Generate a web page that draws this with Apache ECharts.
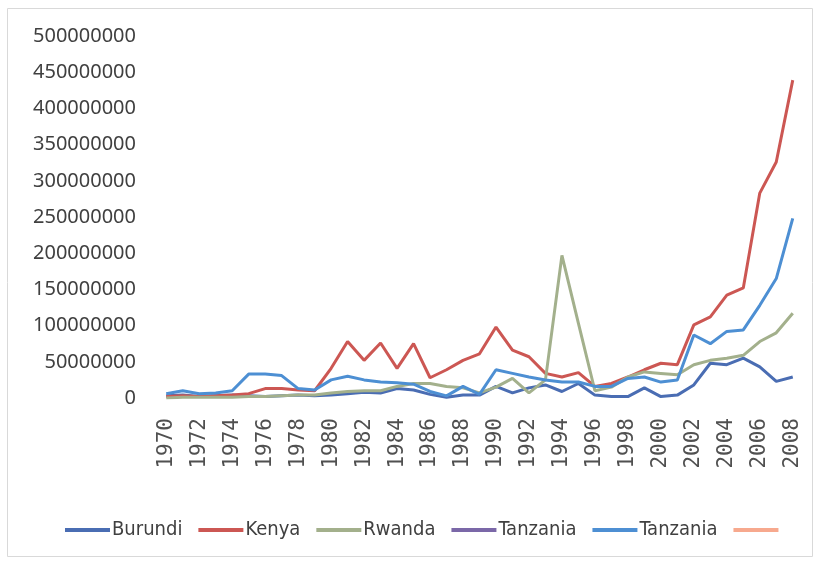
<!DOCTYPE html>
<html>
<head>
<meta charset="utf-8">
<script src="https://cdn.jsdelivr.net/npm/echarts@6/dist/echarts.min.js"></script>
<style>
html,body{margin:0;padding:0;background:#fff;}
#chart{width:823px;height:564px;}
</style>
</head>
<body>
<div id="chart"></div>
<script>
const years = [];
for (let y = 1970; y <= 2008; y++) years.push(String(y));

const burundi = [3e6,4e6,2e6,3e6,4e6,3e6,2e6,3e6,4e6,3e6,4e6,6e6,8e6,7e6,13e6,11e6,5e6,1e6,4e6,4e6,16e6,7e6,14e6,18e6,9e6,20e6,4e6,2e6,2e6,14e6,2e6,4e6,18e6,48e6,46e6,55e6,43e6,23e6,29e6];
const kenya = [2e6,3e6,2e6,3e6,4e6,6e6,13e6,13e6,11e6,10e6,41e6,78e6,52e6,76e6,41e6,75e6,28e6,39e6,52e6,61e6,98e6,66e6,57e6,34e6,29e6,35e6,16e6,20e6,29e6,39e6,48e6,46e6,101e6,112e6,142e6,152e6,283e6,326e6,439e6];
const rwanda = [0,1e6,1e6,1e6,1e6,2e6,2e6,3e6,4e6,4e6,7e6,9e6,10e6,10e6,16e6,20e6,20e6,16e6,14e6,7e6,15e6,27e6,7e6,25e6,197e6,103e6,10e6,15e6,29e6,36e6,34e6,32e6,46e6,52e6,55e6,59e6,78e6,90e6,117e6];
const tanzaniaA = [];
const tanzaniaB = [6e6,10e6,6e6,7e6,10e6,33e6,33e6,31e6,13e6,11e6,25e6,30e6,25e6,22e6,21e6,19e6,9e6,3e6,16e6,5e6,39e6,34e6,29e6,25e6,22e6,22e6,16e6,16e6,27e6,29e6,22e6,25e6,87e6,75e6,92e6,94e6,128e6,165e6,248e6];
const extra = [];

const names = ['Burundi','Kenya','Rwanda','Tanzania','Tanzania\u200b',' '];
const colors = ['#4a6db3','#cc5753','#a3b08c','#7b68a8','#4d8fd3','#f7a98e'];
const datasets = [burundi, kenya, rwanda, tanzaniaA, tanzaniaB, extra];

const chart = echarts.init(document.getElementById('chart'));
chart.setOption({
  animation: false,
  color: colors,
  graphic: [{
    type: 'rect', shape: {x: 7.5, y: 8.5, width: 805, height: 548},
    style: {fill: 'none', stroke: '#d9d9d9', lineWidth: 1}, silent: true, z: -1
  }],
  grid: {left: 158, right: 22, top: 36, bottom: 166},
  legend: {
    data: names,
    left: 60, top: 515,
    icon: 'rect', itemWidth: 45, itemHeight: 4, itemGap: 16,
    textStyle: {fontFamily: "'Liberation Sans Narrow', 'DejaVu Sans Condensed', sans-serif", fontSize: 20, color: '#404040', padding: [0,0,0,-3]}
  },
  xAxis: {
    type: 'category', data: years, boundaryGap: true,
    axisLine: {show: false}, axisTick: {show: false},
    axisLabel: {
      interval: 1, rotate: 90, margin: 20,
      fontFamily: "'DejaVu Sans Mono', monospace", fontSize: 21, color: '#505050'
    }
  },
  yAxis: {
    type: 'value', min: 0, max: 500000000, interval: 50000000,
    splitLine: {show: false}, axisLine: {show: false}, axisTick: {show: false},
    axisLabel: {
      margin: 22, fontFamily: "'Noto Sans', sans-serif", fontSize: 20, color: '#404040',
      formatter: v => String(v)
    }
  },
  series: names.map((n, i) => ({
    name: n, type: 'line', data: datasets[i], showSymbol: false, symbol: 'none',
    lineStyle: {width: 3, color: colors[i]}, itemStyle: {color: colors[i]}
  }))
});
</script>
</body>
</html>
